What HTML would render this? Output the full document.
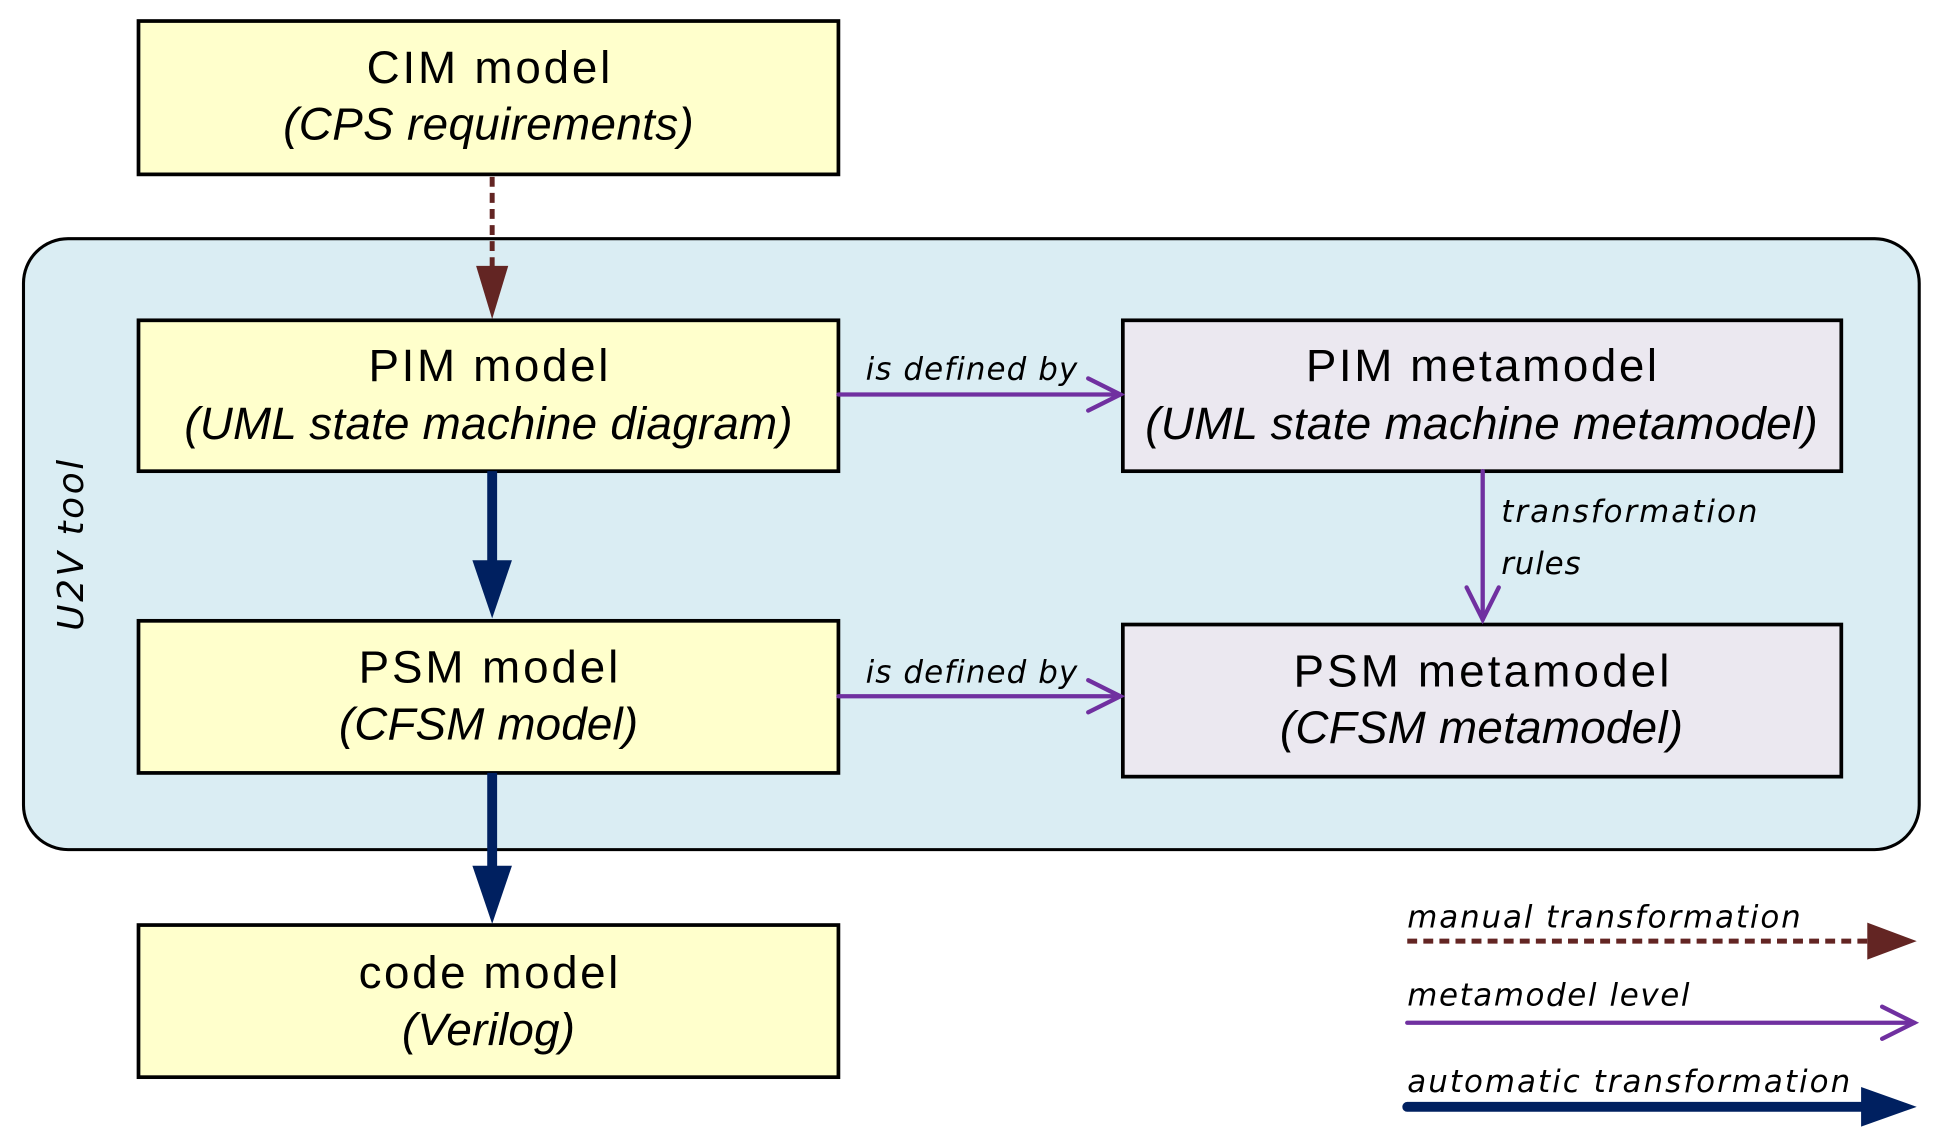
<!DOCTYPE html>
<html><head><meta charset="utf-8"><style>
html,body{margin:0;padding:0;background:#fff;width:1939px;height:1139px;overflow:hidden}
svg{display:block}
.t{font-family:"Liberation Sans",sans-serif;font-size:37px;fill:#000;text-anchor:middle}
.i{font-style:italic}
.s{font-family:"DejaVu Sans","Liberation Sans",sans-serif;font-style:italic;font-size:25px;fill:#000;letter-spacing:1.8px}
</style></head><body>
<svg width="1939" height="1139" viewBox="0 0 1568 921" preserveAspectRatio="none">
<rect x="19" y="193" width="1533" height="494" rx="36" fill="#daedf3" stroke="#000" stroke-width="2.5"/>
<g stroke="#000" stroke-width="3">
<rect x="112" y="17" width="566" height="124" fill="#ffffcc"/>
<rect x="112" y="259" width="566" height="122" fill="#ffffcc"/>
<rect x="112" y="502" width="566" height="123" fill="#ffffcc"/>
<rect x="112" y="748" width="566" height="123" fill="#ffffcc"/>
<rect x="908" y="259" width="581" height="122" fill="#ebe8f0"/>
<rect x="908" y="505" width="581" height="123" fill="#ebe8f0"/>
</g>
<text class="t" x="395" y="67" textLength="197">CIM model</text>
<text class="t i" x="395" y="113" textLength="332">(CPS requirements)</text>
<text class="t" x="395" y="308" textLength="194">PIM model</text>
<text class="t i" x="395" y="355" textLength="492">(UML state machine diagram)</text>
<text class="t" x="395" y="552" textLength="210">PSM model</text>
<text class="t i" x="395" y="598" textLength="242">(CFSM model)</text>
<text class="t" x="395" y="799" textLength="210">code model</text>
<text class="t i" x="395" y="845" textLength="140">(Verilog)</text>
<text class="t" x="1198" y="308" textLength="284">PIM metamodel</text>
<text class="t i" x="1198" y="355" textLength="544">(UML state machine metamodel)</text>
<text class="t" x="1198" y="555" textLength="304">PSM metamodel</text>
<text class="t i" x="1198" y="601" textLength="326">(CFSM metamodel)</text>
<line x1="398" y1="143" x2="398" y2="218" stroke="#632523" stroke-width="4" stroke-dasharray="8,5"/>
<polygon points="385,215 411,215 398,258" fill="#632523"/>
<line x1="398" y1="381" x2="398" y2="455" stroke="#002060" stroke-width="8"/>
<polygon points="382,453 414,453 398,500" fill="#002060"/>
<line x1="398" y1="625" x2="398" y2="702" stroke="#002060" stroke-width="8"/>
<polygon points="382,700 414,700 398,747" fill="#002060"/>
<g stroke="#7030a0" stroke-width="3.5" fill="none" stroke-linecap="round">
<line x1="678" y1="319" x2="906" y2="319"/><polyline points="880,306 906,319 880,332"/>
<line x1="678" y1="563" x2="906" y2="563"/><polyline points="880,550 906,563 880,576"/>
<line x1="1199" y1="381" x2="1199" y2="501"/><polyline points="1186,475 1199,501 1212,475"/>
<line x1="1138" y1="827" x2="1548" y2="827"/><polyline points="1522,814 1548,827 1522,840"/>
</g>
<text class="s" x="700" y="307" textLength="173">is defined by</text>
<text class="s" x="700" y="552" textLength="173">is defined by</text>
<text class="s" x="1214" y="422" textLength="209">transformation</text>
<text class="s" x="1214" y="464" textLength="66">rules</text>
<text class="s" x="1138" y="750" textLength="320">manual transformation</text>
<text class="s" x="1138" y="813" textLength="230">metamodel level</text>
<text class="s" x="1138" y="883" textLength="360">automatic transformation</text>
<text class="s" transform="translate(67,440) rotate(-90)" text-anchor="middle" style="font-size:29px" textLength="140">U2V tool</text>
<line x1="1138" y1="761" x2="1512" y2="761" stroke="#632523" stroke-width="4" stroke-dasharray="8,5"/>
<polygon points="1510,746 1550,761 1510,776" fill="#632523"/>
<line x1="1138" y1="895" x2="1510" y2="895" stroke="#002060" stroke-width="8" stroke-linecap="round"/>
<polygon points="1505,879 1550,895 1505,911" fill="#002060"/>
</svg>
</body></html>
